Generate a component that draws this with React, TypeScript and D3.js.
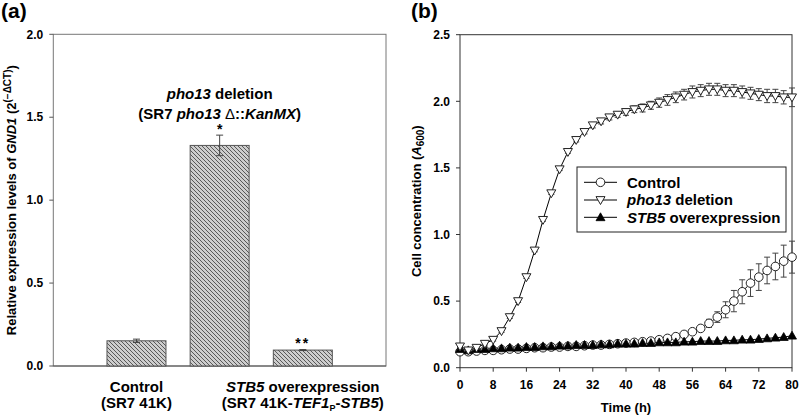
import React from "react";
import * as d3 from "d3";

// ---------- Panel (a) data ----------
const barKeys = ["control", "pho13", "stb5"];
const barValues = [0.152, 1.33, 0.096];
const barErrors = [0.01, 0.062, 0.003];
const barSignif = ["", "*", "**"];
const yTicksA = [0, 0.5, 1.0, 1.5, 2.0];

// ---------- Panel (b) data ----------
const timeH = [0, 2, 4, 6, 8, 10, 12, 14, 16, 18, 20, 22, 24, 26, 28, 30, 32, 34, 36, 38, 40,
  42, 44, 46, 48, 50, 52, 54, 56, 58, 60, 62, 64, 66, 68, 70, 72, 74, 76, 78, 80];
const controlVals = [0.12, 0.12, 0.125, 0.13, 0.13, 0.135, 0.14, 0.14, 0.145, 0.15, 0.15, 0.155, 0.155,
  0.16, 0.16, 0.165, 0.17, 0.17, 0.175, 0.18, 0.185, 0.19, 0.195, 0.2, 0.21,
  0.22, 0.233, 0.25, 0.27, 0.295, 0.333, 0.38, 0.435, 0.5, 0.57, 0.635, 0.68, 0.73, 0.76, 0.8, 0.83];
const controlErr = [0.01, 0.005, 0.005, 0.005, 0.005, 0.005, 0.005, 0.005, 0.005, 0.005, 0.005, 0.005, 0.005,
  0.005, 0.005, 0.005, 0.005, 0.005, 0.005, 0.005, 0.005, 0.005, 0.005, 0.005, 0.008,
  0.01, 0.01, 0.012, 0.015, 0.02, 0.03, 0.04, 0.06, 0.08, 0.09, 0.1, 0.1, 0.1, 0.1, 0.12, 0.12];
const pho13Vals = [0.16, 0.13, 0.15, 0.18, 0.21, 0.275, 0.38, 0.5, 0.68, 0.88, 1.11, 1.31, 1.49, 1.62, 1.71,
  1.77, 1.82, 1.85, 1.88, 1.9, 1.92, 1.94, 1.95, 1.97, 1.99, 2.01, 2.03, 2.05, 2.07, 2.08, 2.09,
  2.09, 2.08, 2.08, 2.07, 2.06, 2.05, 2.04, 2.04, 2.03, 2.03];
const pho13Err = [0.01, 0.01, 0.01, 0.01, 0.01, 0.01, 0.01, 0.01, 0.01, 0.01, 0.01, 0.01, 0.01, 0.01, 0.015,
  0.015, 0.02, 0.02, 0.02, 0.02, 0.025, 0.025, 0.03, 0.03, 0.035, 0.04, 0.04, 0.04, 0.045, 0.045, 0.045,
  0.045, 0.045, 0.045, 0.045, 0.045, 0.045, 0.05, 0.05, 0.05, 0.07];
const stb5Vals = [0.14, 0.13, 0.14, 0.14, 0.145, 0.145, 0.15, 0.15, 0.155, 0.155, 0.16, 0.16, 0.165, 0.165,
  0.17, 0.17, 0.17, 0.175, 0.175, 0.18, 0.18, 0.18, 0.185, 0.185, 0.19, 0.19, 0.19, 0.195, 0.195, 0.2,
  0.2, 0.2, 0.205, 0.205, 0.21, 0.21, 0.215, 0.22, 0.225, 0.23, 0.24];
const xTicksB = [0, 8, 16, 24, 32, 40, 48, 56, 64, 72, 80];
const yTicksB = [0, 0.5, 1.0, 1.5, 2.0, 2.5];

const FONT = "'Liberation Sans', Arial, sans-serif";

function triDown(cx: number, cy: number, s = 4.5) {
  return `M${cx - s},${cy - s * 0.75}L${cx + s},${cy - s * 0.75}L${cx},${cy + s}Z`;
}
function triUp(cx: number, cy: number, s = 4.5) {
  return `M${cx - s},${cy + s * 0.75}L${cx + s},${cy + s * 0.75}L${cx},${cy - s}Z`;
}

export default function App() {
  // Panel a scales
  const xA = d3.scaleLinear().domain([0, 4]).range([53.3, 386]);
  const yA = d3.scaleLinear().domain([0, 2]).range([366, 34.3]);
  const barW = 59;

  // Panel b scales
  const xB = d3.scaleLinear().domain([0, 80]).range([460, 792]);
  const yB = d3.scaleLinear().domain([0, 2.5]).range([367.7, 34.7]);

  const lineGen = (vals: number[]) =>
    d3.line<number>().x((_, i) => xB(timeH[i])).y((v) => yB(v))(vals) || "";

  const errBars = (vals: number[], errs: number[], color: string, key: string) =>
    vals.map((v, i) => {
      const e = errs[i];
      const x = xB(timeH[i]);
      const y1 = yB(v + e);
      const y2 = yB(v - e);
      return (
        <g key={key + i} stroke={color} strokeWidth={1}>
          <line x1={x} x2={x} y1={y1} y2={y2} />
          <line x1={x - 3} x2={x + 3} y1={y1} y2={y1} />
          <line x1={x - 3} x2={x + 3} y1={y2} y2={y2} />
        </g>
      );
    });

  return (
    <svg width={800} height={417} style={{ position: "absolute", left: 0, top: 0, background: "#fff" }}
      fontFamily={FONT} fontWeight="bold">
      <defs>
        <pattern id="hatch" patternUnits="userSpaceOnUse" width={4} height={4}>
          <rect width={4} height={4} fill="#cdcdcd" />
          <path d="M-1,-1L5,5M-1,3L1,5M3,-1L5,1" stroke="#3a3a3a" strokeWidth={0.8} />
        </pattern>
      </defs>

      {/* ================= Panel (a) ================= */}
      <text x={1} y={18} fontSize={21}>(a)</text>
      <rect x={xA(0)} y={yA(2)} width={xA(4) - xA(0)} height={yA(0) - yA(2)} fill="none" stroke="#777" strokeWidth={1} />
      {yTicksA.map((t) => (
        <g key={"ya" + t}>
          <line x1={xA(0) - 4} x2={xA(0)} y1={yA(t)} y2={yA(t)} stroke="#555" />
          <text x={xA(0) - 10} y={yA(t)} dy="0.35em" textAnchor="end" fontSize={12}>{t.toFixed(1)}</text>
        </g>
      ))}
      <line x1={xA(0)} x2={xA(4)} y1={yA(0)} y2={yA(0)} stroke="#555" />
      {barKeys.map((k, i) => {
        const cx = xA(i + 1);
        const top = yA(barValues[i]);
        return (
          <g key={k}>
            <rect x={cx - barW / 2} y={top} width={barW} height={yA(0) - top} fill="url(#hatch)" stroke="#555" strokeWidth={1} />
            <g stroke="#444" strokeWidth={1}>
              <line x1={cx} x2={cx} y1={yA(barValues[i] + barErrors[i])} y2={yA(barValues[i] - barErrors[i])} />
              <line x1={cx - 3.5} x2={cx + 3.5} y1={yA(barValues[i] + barErrors[i])} y2={yA(barValues[i] + barErrors[i])} />
              <line x1={cx - 3.5} x2={cx + 3.5} y1={yA(barValues[i] - barErrors[i])} y2={yA(barValues[i] - barErrors[i])} />
            </g>
            {barSignif[i] && (
              <text x={cx} y={yA(barValues[i] + barErrors[i]) - 1.5} textAnchor="middle" fontSize={14} letterSpacing={barSignif[i].length > 1 ? 2 : 0}>{barSignif[i]}</text>
            )}
          </g>
        );
      })}
      {/* pho13 annotation */}
      <text x={xA(2)} y={99} textAnchor="middle" fontSize={15}>
        <tspan fontStyle="italic">pho13</tspan> deletion
      </text>
      <text x={xA(2)} y={118.5} textAnchor="middle" fontSize={15}>
        (SR7 <tspan fontStyle="italic">pho13</tspan><tspan fontWeight="normal"> Δ</tspan>::<tspan fontStyle="italic">KanMX</tspan>)
      </text>
      {/* x labels */}
      <text x={xA(1)} y={392} textAnchor="middle" fontSize={15}>Control</text>
      <text x={xA(1)} y={408} textAnchor="middle" fontSize={15}>(SR7 41K)</text>
      <text x={xA(3)} y={392} textAnchor="middle" fontSize={15}>
        <tspan fontStyle="italic">STB5</tspan> overexpression
      </text>
      <text x={xA(3)} y={408} textAnchor="middle" fontSize={15}>
        (SR7 41K-<tspan fontStyle="italic">TEF1</tspan><tspan fontSize={9} dy={3}>P</tspan><tspan dy={-3}>-</tspan><tspan fontStyle="italic">STB5</tspan>)
      </text>
      {/* y label */}
      <text transform={`translate(16,${(yA(0) + yA(2)) / 2}) rotate(-90)`} textAnchor="middle" fontSize={13}>
        Relative expression levels of <tspan fontStyle="italic">GND1</tspan> (2<tspan fontSize={10} dy={-5}>(−ΔCT)</tspan><tspan dy={5}>)</tspan>
      </text>

      {/* ================= Panel (b) ================= */}
      <text x={411} y={18} fontSize={21}>(b)</text>
      <rect x={xB(0)} y={yB(2.5)} width={xB(80) - xB(0)} height={yB(0) - yB(2.5)} fill="none" stroke="#333" strokeWidth={1} />
      {yTicksB.map((t) => (
        <g key={"yb" + t}>
          <line x1={xB(0) - 4} x2={xB(0)} y1={yB(t)} y2={yB(t)} stroke="#333" />
          <text x={xB(0) - 10} y={yB(t)} dy="0.35em" textAnchor="end" fontSize={12}>{t.toFixed(1)}</text>
        </g>
      ))}
      {xTicksB.map((t) => (
        <g key={"xb" + t}>
          <line x1={xB(t)} x2={xB(t)} y1={yB(0)} y2={yB(0) + 4} stroke="#333" />
          <text x={xB(t)} y={389} textAnchor="middle" fontSize={12}>{t}</text>
        </g>
      ))}
      <text x={(xB(0) + xB(80)) / 2} y={412} textAnchor="middle" fontSize={13}>Time (h)</text>
      <text transform={`translate(421,${(yB(0) + yB(2.5)) / 2}) rotate(-90)`} textAnchor="middle" fontSize={13}>
        Cell concentration (<tspan fontStyle="italic">A</tspan><tspan fontSize={10} dy={3}>600</tspan><tspan dy={-3}>)</tspan>
      </text>

      {/* error bars */}
      {errBars(controlVals, controlErr, "#444", "ce")}
      {errBars(pho13Vals, pho13Err, "#444", "pe")}

      {/* lines */}
      <path d={lineGen(controlVals)} fill="none" stroke="#000" strokeWidth={1} />
      <path d={lineGen(stb5Vals)} fill="none" stroke="#000" strokeWidth={1} />
      <path d={lineGen(pho13Vals)} fill="none" stroke="#000" strokeWidth={1} />

      {/* markers */}
      {controlVals.map((v, i) => (
        <circle key={"cm" + i} cx={xB(timeH[i])} cy={yB(v)} r={4.3} fill="#fff" stroke="#222" strokeWidth={1} />
      ))}
      {stb5Vals.map((v, i) => (
        <path key={"sm" + i} d={triUp(xB(timeH[i]), yB(v))} fill="#000" stroke="#000" strokeWidth={0.8} />
      ))}
      {pho13Vals.map((v, i) => (
        <path key={"pm" + i} d={triDown(xB(timeH[i]), yB(v))} fill="#fff" stroke="#222" strokeWidth={1} />
      ))}

      {/* legend */}
      <g>
        <rect x={577} y={167} width={209} height={65} fill="#fff" stroke="#222" strokeWidth={1} />
        <line x1={584} x2={617} y1={182.3} y2={182.3} stroke="#000" />
        <circle cx={600.5} cy={182.3} r={4.3} fill="#fff" stroke="#222" />
        <text x={627} y={187.5} fontSize={15}>Control</text>
        <line x1={584} x2={617} y1={200} y2={200} stroke="#000" />
        <path d={triDown(600.5, 200)} fill="#fff" stroke="#222" />
        <text x={627} y={205.2} fontSize={15}><tspan fontStyle="italic">pho13</tspan> deletion</text>
        <line x1={584} x2={617} y1={217.3} y2={217.3} stroke="#000" />
        <path d={triUp(600.5, 217.3)} fill="#000" stroke="#000" strokeWidth={0.8} />
        <text x={627} y={222.5} fontSize={15}><tspan fontStyle="italic">STB5</tspan> overexpression</text>
      </g>
    </svg>
  );
}
